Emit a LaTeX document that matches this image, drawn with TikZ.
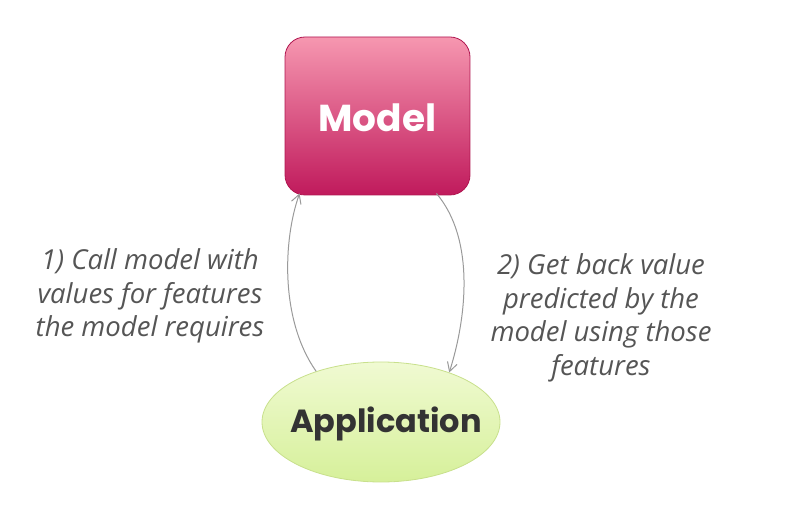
\documentclass[tikz,border=0pt]{standalone}
\usepackage{fontspec}
\setmainfont{Open Sans}
\newfontfamily\titlefont{Poppins}
\usetikzlibrary{arrows.meta,shapes.geometric}
\definecolor{modeltop}{HTML}{F697B0}
\definecolor{modelbot}{HTML}{C01A5C}
\definecolor{modelline}{HTML}{B01650}
\definecolor{apptop}{HTML}{F0FAD2}
\definecolor{appbot}{HTML}{D6F09A}
\definecolor{appline}{HTML}{C8E08C}
\definecolor{apptext}{HTML}{333333}
\definecolor{linkgray}{HTML}{9A9A9A}
\definecolor{notegray}{HTML}{555555}
\tikzset{
  modelbox/.style={draw=modelline, line width=0.8pt, rounded corners=20pt,
    minimum width=185pt, minimum height=158pt, inner sep=0pt,
    top color=modeltop, bottom color=modelbot},
  modeltext/.style={text=white, inner sep=0pt, font=\titlefont\fontsize{37.5}{40}\selectfont\bfseries},
  appnode/.style={ellipse, draw=appline, line width=0.8pt,
    minimum width=238pt, minimum height=120pt, inner sep=0pt,
    top color=apptop, bottom color=appbot},
  apptextstyle/.style={text=apptext, inner sep=0pt, font=\titlefont\fontsize{32}{36}\selectfont\bfseries},
  link/.style={draw=linkgray, line width=1pt, -{Straight Barb[length=9pt,width=10pt]}},
  note/.style={text=notegray, align=center, font=\fontsize{27.5}{33.5}\selectfont\itshape}
}
\begin{document}
\begin{tikzpicture}[x=1pt,y=-1pt]
\useasboundingbox (0,0) rectangle (788,513);
\node[modelbox] (model) at (377.5,116) {};
\node[modeltext, anchor=base] (mt) at (377.5,132) {Model};
\node[appnode] (app) at (381,422) {};
\node[apptextstyle, anchor=base] (at) at (386,432) {Application};
\node[note] (n1) at (150,296) {1) Call model with\\values for features\\the model requires};
\node[note] (n2) at (601,318) {2) Get back value\\predicted by the\\model using those\\features};
\draw[link] (app.142) .. controls (280,320) and (283,240) .. ([xshift=15pt,yshift=2pt]model.south west);
\draw[link] ([xshift=-34pt,yshift=2pt]model.south east) .. controls (476,240) and (466,320) .. (app.36);
\end{tikzpicture}
\end{document}
